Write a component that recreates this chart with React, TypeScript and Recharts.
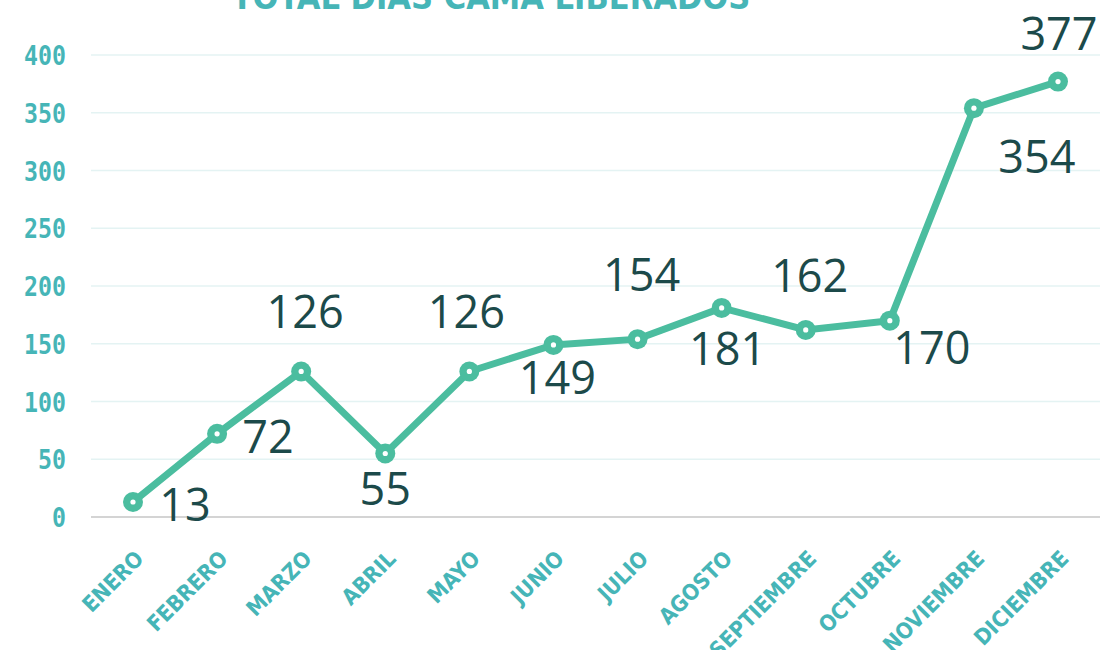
import React from "react";
import { LineChart, Line, XAxis, YAxis, CartesianGrid } from "recharts";

const months = ["ENERO", "FEBRERO", "MARZO", "ABRIL", "MAYO", "JUNIO", "JULIO", "AGOSTO", "SEPTIEMBRE", "OCTUBRE", "NOVIEMBRE", "DICIEMBRE"];
const values = [13, 72, 126, 55, 126, 149, 154, 181, 162, 170, 354, 377];
const yTicks = [0, 50, 100, 150, 200, 250, 300, 350, 400];
// label placement offsets (dx, dy of label centre from point)
const labelDx = [52, 51, 4, 0, -3, 4, 4, 6, 4, 42, 63, 1];
const labelDy = [3, 3, -59, 36, -59, 33, -64, 41, -54, 27, 49, -48];

const data = months.map((m, i) => ({ month: m, value: values[i] }));

const LINE = "#4bbd9f";
const TICK = "#46b5b7";
const LABEL = "#1c4a4a";

const renderDot = (p: any) => {
  const { cx, cy, index, value } = p;
  const v = Array.isArray(value) ? value[1] : value;
  return (
    <g key={`d-${index}`}>
      <circle cx={cx} cy={cy} r={10} fill={LINE} />
      <circle cx={cx} cy={cy} r={2.6} fill="#ffffff" />
      <text
        x={cx + labelDx[index]}
        y={cy + labelDy[index] + 16}
        textAnchor="middle"
        fill={LABEL}
        fontSize={45}
        fontFamily="'Open Sans', 'Noto Sans', sans-serif"
      >
        {values[index] ?? v}
      </text>
    </g>
  );
};

const XTick = (p: any) => {
  const { x, y, payload } = p;
  const ax = x + 12;
  const ay = y + 35;
  return (
    <text
      x={ax}
      y={ay}
      transform={`rotate(-45, ${ax}, ${ay})`}
      textAnchor="end"
      fill={TICK}
      fontSize={22}
      fontWeight="bold"
      fontFamily="'DejaVu Sans Condensed', 'DejaVu Sans', sans-serif"
      style={{ fontStretch: "condensed" }}
    >
      {payload.value}
    </text>
  );
};

const YTick = (p: any) => {
  const { y, payload } = p;
  return (
    <text
      transform={`translate(66, ${y + 10}) scale(0.86, 1)`}
      x={0}
      y={0}
      textAnchor="end"
      fill={TICK}
      fontSize={27}
      fontWeight="bold"
      fontFamily="'DejaVu Sans Mono', monospace"
    >
      {payload.value}
    </text>
  );
};

export default function App() {
  return (
    <div style={{ position: "absolute", left: 0, top: 0, width: 1100, height: 650, overflow: "hidden", background: "#fff" }}>
      <div
        style={{
          position: "absolute",
          left: 491,
          top: -20,
          transform: "translateX(-50%)",
          whiteSpace: "nowrap",
          fontFamily: "'DejaVu Sans Condensed', 'DejaVu Sans', sans-serif",
          fontStretch: "condensed",
          fontWeight: "bold",
          fontSize: 34,
          lineHeight: "34px",
          color: TICK,
        }}
      >
        TOTAL DÍAS CAMA LIBERADOS
      </div>
      <LineChart width={1100} height={650} data={data} margin={{ top: 55, right: 0, left: 0, bottom: 0 }}>
        <CartesianGrid horizontal vertical={false} stroke="#e4f3f3" strokeWidth={1.5} />
        <XAxis
          dataKey="month"
          interval={0}
          height={133}
          padding={{ left: 42, right: 42 }}
          tickLine={false}
          axisLine={{ stroke: "#d4d4d4", strokeWidth: 2 }}
          tick={<XTick />}
        />
        <YAxis
          width={91}
          domain={[0, 400]}
          ticks={yTicks}
          tickLine={false}
          axisLine={false}
          tick={<YTick />}
        />
        <Line
          type="linear"
          dataKey="value"
          stroke={LINE}
          strokeWidth={7}
          dot={renderDot}
          activeDot={false}
          isAnimationActive={false}
        />
      </LineChart>
    </div>
  );
}
